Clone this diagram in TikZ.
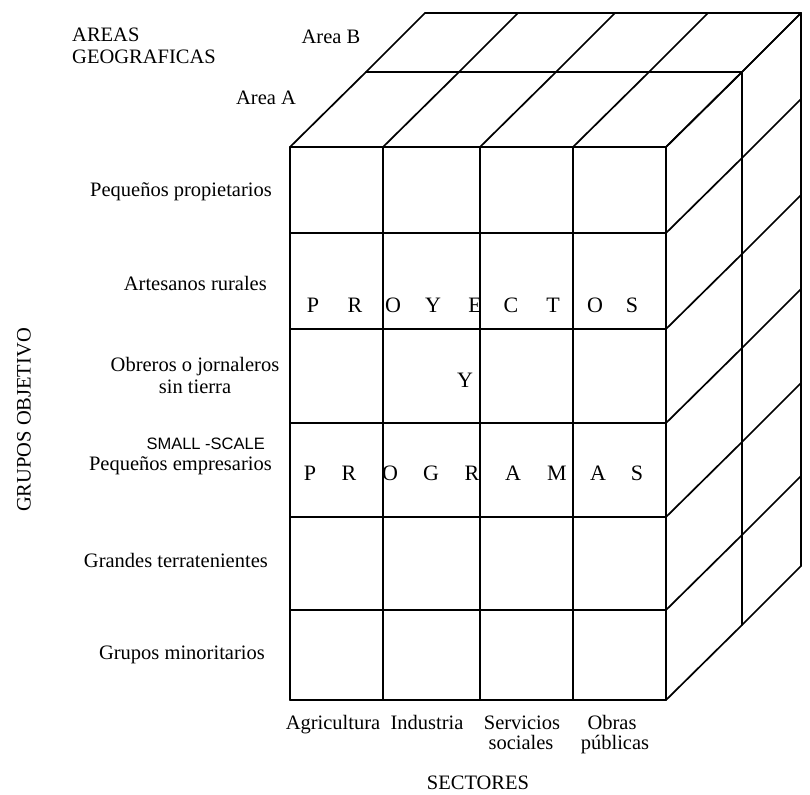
\documentclass[tikz,border=0pt]{standalone}
\usepackage{fontspec}
\setmainfont{Liberation Serif}
\newfontfamily\stampfont{Liberation Sans}
\begin{document}
\begin{tikzpicture}[x=1pt,y=-1pt,
  grid/.style={line width=1.7pt,line cap=round,line join=round},
  lbl/.style={inner sep=0pt,font=\fontsize{20.5}{22}\selectfont},
  big/.style={inner sep=0pt,anchor=base,font=\fontsize{22}{24}\selectfont}]
\useasboundingbox (0,0) rectangle (810,794);
\fill[white] (0,0) rectangle (810,794);
% front face
\foreach \x in {290,383,480,573,666} \draw[grid] (\x,147) -- (\x,700);
\foreach \y in {147,233,329,423,517,610,700} \draw[grid] (290,\y) -- (666,\y);
% top face
\foreach \x in {290,383,480,573,666} \draw[grid] (\x,147) -- ++(76,-75) -- ++(59,-59);
\draw[grid] (366,72) -- (742,72);
\draw[grid] (425,13) -- (801,13);
% right face
\foreach \y in {147,233,329,423,517,610,700} \draw[grid] (666,\y) -- ++(76,-75) -- ++(59,-59);
\draw[grid] (742,72) -- (742,625);
\draw[grid] (801,13) -- (801,566);
% labels
\node[lbl,anchor=base west] (areas) at (72,42) {AREAS};
\node[lbl,anchor=base west] (geo) at (72,64) {GEOGRAFICAS};
\node[lbl] (areaB) at (331,37) {Area B};
\node[lbl] (areaA) at (266,98) {Area A};
\node[lbl,anchor=mid east] (pp) at (272,194) {Pequeños propietarios};
\node[lbl,anchor=mid east] (ar) at (267,288) {Artesanos rurales};
\node[lbl,align=center] (ob) at (195,375) {Obreros o jornaleros\\sin tierra};
\node[inner sep=0pt,anchor=mid east,font=\stampfont\fontsize{16.5}{18}\selectfont] (sm) at (265,447) {SMALL -SCALE};
\node[lbl,anchor=mid east] (pe) at (272,468) {Pequeños empresarios};
\node[lbl,anchor=mid east] (gt) at (268,565) {Grandes terratenientes};
\node[lbl,anchor=mid east] (gm) at (265,657) {Grupos minoritarios};
\node[lbl,rotate=90] (go) at (24,420) {GRUPOS OBJETIVO};
\node[lbl,anchor=base] (ag) at (333,729) {Agricultura};
\node[lbl,anchor=base] (in) at (427,729) {Industria};
\node[lbl,anchor=base] (se1) at (522,729) {Servicios};
\node[lbl,anchor=base] (se2) at (521,749) {sociales};
\node[lbl,anchor=base] (ob1) at (612,729) {Obras};
\node[lbl,anchor=base] (ob2) at (615,749) {públicas};
\node[lbl] (sec) at (478,783) {SECTORES};
% big letters
\foreach \l/\x [count=\i] in {P/313,R/355,O/393,Y/433,E/475,C/511,T/553,O/595,S/632}
  \node[big] (py\i) at (\x,312) {\l};
\node[big] (yy) at (465,387) {Y};
\foreach \l/\x [count=\i] in {P/310,R/349,O/390,G/431,R/472,A/513,M/557,A/598,S/637}
  \node[big] (pg\i) at (\x,480) {\l};
\end{tikzpicture}
\end{document}
